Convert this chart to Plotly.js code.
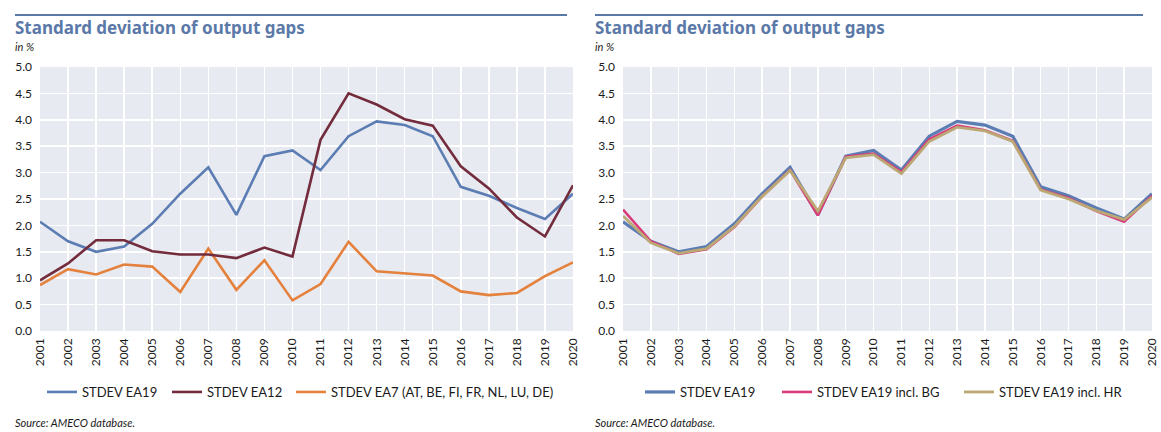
<!DOCTYPE html>
<html><head><meta charset="utf-8">
<script src="https://cdn.plot.ly/plotly-3.0.1.min.js"></script>
<style>html,body{margin:0;padding:0;background:#fff}#c{width:1161px;height:432px}</style>
</head><body><div id="c"></div>
<script>
const years = [2001,2002,2003,2004,2005,2006,2007,2008,2009,2010,2011,2012,2013,2014,2015,2016,2017,2018,2019,2020];
const yearLabels = years.map(String);
const ea19 = [2.07,1.70,1.50,1.60,2.03,2.60,3.10,2.20,3.31,3.42,3.05,3.69,3.97,3.90,3.69,2.73,2.56,2.33,2.12,2.60];
const ea12 = [0.96,1.28,1.72,1.72,1.51,1.45,1.45,1.38,1.58,1.41,3.62,4.50,4.29,4.01,3.89,3.12,2.70,2.15,1.79,2.76];
const ea7  = [0.87,1.17,1.07,1.26,1.22,0.74,1.56,0.78,1.34,0.58,0.89,1.69,1.13,1.09,1.05,0.75,0.68,0.72,1.04,1.30];
const ea19bg = [2.30,1.70,1.46,1.55,1.97,2.55,3.05,2.19,3.30,3.36,3.01,3.63,3.89,3.80,3.60,2.68,2.52,2.27,2.07,2.56];
const ea19hr = [2.18,1.67,1.47,1.56,1.98,2.55,3.04,2.27,3.28,3.34,2.98,3.59,3.86,3.79,3.59,2.67,2.50,2.28,2.11,2.53];
const names = ['STDEV EA19','STDEV EA12','STDEV EA7 (AT, BE, FI, FR, NL, LU, DE)','STDEV EA19','STDEV EA19 incl. BG','STDEV EA19 incl. HR'];
const titleText = 'Standard deviation of output gaps';
const unitText = 'in %';
const sourceText = 'Source: AMECO database.';

const W = 1161, H = 432;
const px = v => v / W, py = v => 1 - v / H;
const FONT = 'Lato, "Open Sans", sans-serif';
const TFONT = '"Noto Sans", "Open Sans", sans-serif';
const C = {blue:'#5b7db3', maroon:'#722c3c', orange:'#e4813d', pink:'#d83a7a', khaki:'#bba874', title:'#5b79a8'};

function tr(y, name, color, xa, ya, leg, w) {
  return {x: years, y: y, name: name, type:'scatter', mode:'lines', xaxis: xa, yaxis: ya, legend: leg,
          line:{color: color, width: w || 2.6}};
}
const data = [
  tr(ea7, names[2], C.orange, 'x', 'y', 'legend3'),
  tr(ea19, names[0], C.blue, 'x', 'y', 'legend'),
  tr(ea12, names[1], C.maroon, 'x', 'y', 'legend2'),
  tr(ea19, names[3], C.blue, 'x2', 'y2', 'legend4', 3.2),
  tr(ea19bg, names[4], C.pink, 'x2', 'y2', 'legend5', 2.6),
  tr(ea19hr, names[5], C.khaki, 'x2', 'y2', 'legend6', 2.8)
];

const yDom = [1 - 331/H, 1 - 67/H];
function xax(dom) {
  return {domain: dom, range:[2001,2020], tickmode:'array', tickvals: years, ticktext: yearLabels, tickangle:-90,
    showgrid:true, gridcolor:'#ffffff', gridwidth:1.5, zeroline:false, showline:false, ticks:'',
    ticklabeloverflow:'allow', ticklabelstandoff:4,
    tickfont:{family:FONT, size:12, color:'#1a1a1a'}, fixedrange:true};
}
function yax(anchor) {
  return {domain: yDom, anchor: anchor, range:[0,5], dtick:0.5, tickformat:'.1f', showgrid:true, gridcolor:'#ffffff',
    gridwidth:1.5, zeroline:false, showline:false, ticks:'', ticklabelstandoff:7,
    tickfont:{family:FONT, size:12, color:'#1a1a1a'}, fixedrange:true};
}
function leg(x) {
  return {x: px(x), y: py(392), xanchor:'left', yanchor:'middle', orientation:'h', bgcolor:'rgba(0,0,0,0)',
    font:{family:FONT, size:13, color:'#1a1a1a'}, itemwidth:30, tracegroupgap:0};
}
const ann = [];
const shapes = [];
[[15,567],[595,1143]].forEach(([x0,x1]) => {
  shapes.push({type:'line', xref:'paper', yref:'paper', x0:px(x0), x1:px(x1), y0:py(15), y1:py(15), line:{color:C.title, width:2.2}});
  ann.push({xref:'paper', yref:'paper', x:px(x0 - 2), y:py(28), xanchor:'left', yanchor:'middle', showarrow:false,
    text:'<b>'+titleText+'</b>', font:{family:TFONT, size:17, color:C.title}});
  ann.push({xref:'paper', yref:'paper', x:px(x0 - 2), y:py(46), xanchor:'left', yanchor:'middle', showarrow:false,
    text:'<i>'+unitText+'</i>', font:{family:FONT, size:11, color:'#1a1a1a'}});
  ann.push({xref:'paper', yref:'paper', x:px(x0 - 2), y:py(422), xanchor:'left', yanchor:'middle', showarrow:false,
    text:'<i>'+sourceText+'</i>', font:{family:FONT, size:11, color:'#1a1a1a'}});
});

const layout = {
  width: W, height: H, margin:{l:0,r:0,t:0,b:0}, paper_bgcolor:'#ffffff', plot_bgcolor:'#e8eaf1',
  xaxis: xax([px(40), px(573)]), yaxis: yax('x'),
  xaxis2: xax([px(623), px(1152)]), yaxis2: yax('x2'),
  legend: leg(42), legend2: leg(167), legend3: leg(291),
  legend4: leg(640), legend5: leg(777), legend6: leg(959),
  showlegend:true, shapes: shapes, annotations: ann
};
Plotly.newPlot('c', data, layout, {displayModeBar:false, staticPlot:true});
</script></body></html>
